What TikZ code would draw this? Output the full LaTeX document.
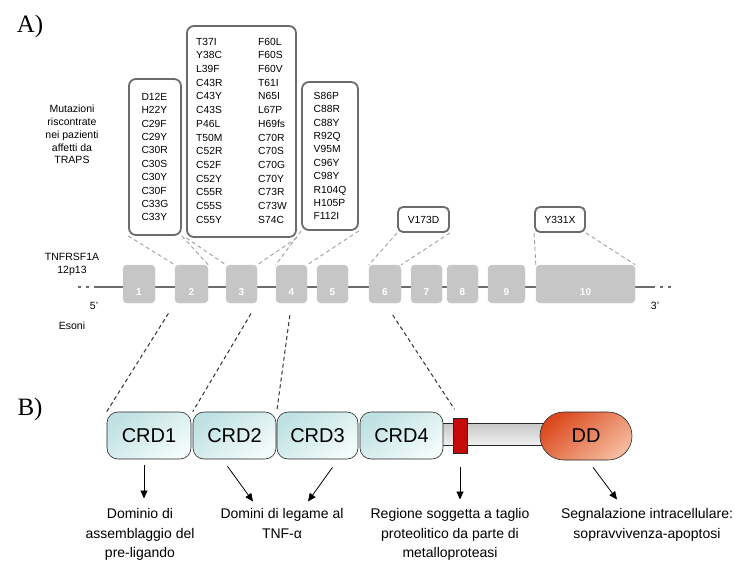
\documentclass[tikz,border=0pt]{standalone}
\usepackage{fontspec}
\setsansfont{Liberation Sans}
\newfontfamily\panelfont{Liberation Serif}
\usetikzlibrary{positioning, calc, arrows.meta}

\definecolor{exongray}{HTML}{C6C6C6}
\definecolor{crdtop}{HTML}{BFE1E2}
\definecolor{crdbot}{HTML}{F3FBFB}
\definecolor{ddtop}{HTML}{DC4A1E}
\definecolor{ddbot}{HTML}{F5BA9D}
\definecolor{cleavred}{HTML}{C40A0A}

\tikzset{
	mutbox/.style={draw=black!58, line width=1.8pt, rounded corners=7pt, font=\sffamily\fontsize{10.3}{13.4}\selectfont, align=left, inner sep=0pt},
	exon/.style={draw=black!22, fill=exongray, rounded corners=4pt, minimum height=38pt, text=white, font=\sffamily\bfseries\fontsize{10}{10}\selectfont, text height=23pt, text depth=0pt, inner sep=0pt},
	crd/.style={draw=black!85, line width=0.6pt, rounded corners=11pt, minimum height=47pt, top color=crdtop, bottom color=crdbot, shading angle=35, font=\sffamily\fontsize{20}{20}\selectfont, inner sep=0pt},
	link/.style={gray!75, dash pattern=on 4pt off 3pt, line width=0.9pt},
	cutline/.style={black!80, dash pattern=on 4pt off 3pt, line width=1pt},
	pointer/.style={-{Triangle[length=8pt, width=7pt]}, line width=0.8pt},
	caption/.style={font=\sffamily\fontsize{14}{19.5}\selectfont, align=center, inner sep=0pt},
	small/.style={font=\sffamily\fontsize{10.5}{12.75}\selectfont, align=center, inner sep=0pt},
	panel/.style={font=\panelfont\fontsize{25}{25}\selectfont, inner sep=0pt}
}

\begin{document}
\begin{tikzpicture}[x=1pt, y=-1pt]
	\useasboundingbox (0,0) rectangle (743,562);

	% panel A: gene
	\node[panel] (pa) at (30,26) {A)};
	\node[small] (mut) at (72,134.5) {Mutazioni\\riscontrate\\nei pazienti\\affetti da\\TRAPS};
	\node[small] (gene) at (72,264.5) {TNFRSF1A\\12p13};
	\node[small] (esoni) at (72,326) {Esoni};
	\node[small] (five) at (94,306) {5'};
	\node[small] (three) at (655,306) {3'};

	\coordinate (g5) at (97,287);
	\coordinate (g3) at (652,287);
	\draw[gray!85!black, line width=2.8pt] (g5) -- (g3);
	\draw[gray!85!black, line width=2.8pt, dash pattern=on 3pt off 5pt] (g5) -- +(-22,0);
	\draw[gray!85!black, line width=2.8pt, dash pattern=on 3pt off 5pt] (g3) -- +(22,0);

	\node[exon, minimum width=32pt] (ex1) at (139,284) {1};
	\node[exon, minimum width=33pt] (ex2) at (191.5,284) {2};
	\node[exon, minimum width=31pt] (ex3) at (241.5,284) {3};
	\node[exon, minimum width=31pt] (ex4) at (291.5,284) {4};
	\node[exon, minimum width=31pt] (ex5) at (332.5,284) {5};
	\node[exon, minimum width=32pt] (ex6) at (385,284) {6};
	\node[exon, minimum width=31pt] (ex7) at (426.5,284) {7};
	\node[exon, minimum width=31pt] (ex8) at (462.5,284) {8};
	\node[exon, minimum width=37pt] (ex9) at (506.5,284) {9};
	\node[exon, minimum width=99pt] (ex10) at (585.5,284) {10};

	\node[mutbox, minimum width=52pt, minimum height=156pt] (crd1mut) at (155,157)
		{D12E\\H22Y\\C29F\\C29Y\\C30R\\C30S\\C30Y\\C30F\\C33G\\C33Y};
	\node[mutbox, minimum width=109pt, minimum height=211pt] (crd2mut) at (241.5,131.5)
		{\renewcommand\arraystretch{1}\fontsize{10.3}{13.7}\selectfont
		\begin{tabular}{@{}p{62pt}@{}l@{}}
		T37I & F60L\\ Y38C & F60S\\ L39F & F60V\\ C43R & T61I\\ C43Y & N65I\\
		C43S & L67P\\ P46L & H69fs\\ T50M & C70R\\ C52R & C70S\\ C52F & C70G\\
		C52Y & C70Y\\ C55R & C73R\\ C55S & C73W\\ C55Y & S74C
		\end{tabular}};
	\node[mutbox, minimum width=56pt, minimum height=148pt] (crd3mut) at (330,156)
		{\fontsize{10.3}{12.8}\selectfont S86P\\C88R\\C88Y\\R92Q\\V95M\\C96Y\\C98Y\\R104Q\\H105P\\F112I};
	\node[mutbox, minimum width=51pt, minimum height=25pt, rounded corners=5pt] (v173) at (423.5,219.5) {V173D};
	\node[mutbox, minimum width=50pt, minimum height=25pt, rounded corners=5pt] (y331) at (560,219.5) {Y331X};

	\draw[link] (crd1mut.south west) -- (ex2.north west);
	\draw[link] (crd1mut.south east) -- (ex2.north east);
	\draw[link] (crd2mut.south west) -- (ex3.north west);
	\draw[link] (crd2mut.south east) -- (ex3.north east);
	\draw[link] (crd3mut.south west) -- (ex4.north west);
	\draw[link] (crd3mut.south east) -- (ex4.north east);
	\draw[link] (v173.south west) -- (ex6.north west);
	\draw[link] (v173.south east) -- (ex6.north east);
	\draw[link] (y331.south west) -- (ex10.north west);
	\draw[link] (y331.south east) -- (ex10.north east);

	% panel B: protein
	\node[panel] (pb) at (30,409) {B)};
	\node[draw=black!85, line width=0.6pt, top color=black!22, bottom color=black!6, minimum width=104pt, minimum height=22pt, inner sep=0pt] (stalk) at (492,434) {};
	\node[crd, minimum width=84pt] (crd1) at (149,435.5) {CRD1};
	\node[crd, minimum width=83pt] (crd2) at (234.5,435.5) {CRD2};
	\node[crd, minimum width=81pt] (crd3) at (317.5,435.5) {CRD3};
	\node[crd, minimum width=83pt] (crd4) at (401.5,435.5) {CRD4};
	\node[crd, minimum width=92pt, minimum height=48pt, rounded corners=23.9pt, top color=ddtop, bottom color=ddbot, shading angle=40] (dd) at (586,436) {DD};
	\node[draw=black!85, line width=0.6pt, fill=cleavred, minimum width=14pt, minimum height=35pt, inner sep=0pt] (cleave) at (460,435.5) {};

	\draw[cutline, shorten <=12pt] (ex2.south west) -- (crd1.north west);
	\draw[cutline, shorten <=12pt] (ex3.south east) -- (crd2.north west);
	\draw[cutline, shorten <=12pt] (ex4.south) -- (crd3.north west);
	\draw[cutline, shorten <=14pt, shorten >=10pt] (ex6.south) -- (cleave.north);

	\node[caption, anchor=north] (lab1) at (140,508.5) {Dominio di\\assemblaggio del\\pre-ligando};
	\node[caption, anchor=north] (lab2) at (282,508.5) {Domini di legame al\\TNF-α};
	\node[caption, anchor=north] (lab3) at (450,508.5) {Regione soggetta a taglio\\proteolitico da parte di\\metalloproteasi};
	\node[caption, anchor=north] (lab4) at (647,508.5) {Segnalazione intracellulare:\\sopravvivenza-apoptosi};

	\draw[pointer] ($(crd1.south)+(-5,6)$) -- ($(lab1.north)+(4,-10)$);
	\draw[pointer] ($(crd2.south)+(-7,7)$) -- ($(lab2.north)+(-29,-7)$);
	\draw[pointer] ($(crd3.south)+(15,8)$) -- ($(lab2.north)+(26,-7)$);
	\draw[pointer] ($(cleave.south)+(0,14)$) -- ($(lab3.north)+(10,-9)$);
	\draw[pointer] ($(dd.south)+(7,7)$) -- ($(lab4.north)+(-30,-9)$);
\end{tikzpicture}
\end{document}
